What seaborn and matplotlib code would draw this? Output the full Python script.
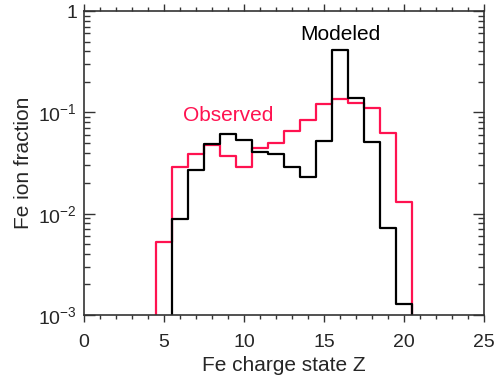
import numpy as np
import pandas as pd
import matplotlib
matplotlib.use("Agg")
import matplotlib.pyplot as plt
from matplotlib.ticker import MultipleLocator, FixedLocator, FixedFormatter, LogLocator, NullFormatter
import seaborn as sns

# Data (Fe charge states, ion fractions; zero outside observed/modeled range)
charge = [4, 5, 6, 7, 8, 9, 10, 11, 12, 13, 14, 15, 16, 17, 18, 19, 20, 21]
observed = [0, 0.0052, 0.029, 0.039, 0.0475, 0.037, 0.029, 0.0448, 0.0494,
            0.0654, 0.084, 0.120, 0.136, 0.123, 0.110, 0.063, 0.0131, 0]
modeled = [0, 0, 0.00885, 0.0269, 0.0486, 0.0606, 0.0533, 0.0408, 0.0388,
           0.0286, 0.0231, 0.0525, 0.412, 0.139, 0.0513, 0.00726, 0.00128, 0]

xticks = [0, 5, 10, 15, 20, 25]
yticks = [1e-3, 1e-2, 1e-1, 1]
yticklabels = [r'$\mathregular{10^{-3}}$', r'$\mathregular{10^{-2}}$',
               r'$\mathregular{10^{-1}}$', '1']

RED = '#ff1250'

sns.set_style("white")
plt.rcParams['font.family'] = ['Liberation Sans', 'DejaVu Sans']
plt.rcParams['mathtext.fontset'] = 'custom'
plt.rcParams['mathtext.rm'] = 'Liberation Sans'
plt.rcParams['mathtext.it'] = 'Liberation Sans:italic'
plt.rcParams['mathtext.bf'] = 'Liberation Sans:bold'

df = pd.DataFrame({'charge': charge, 'Observed': observed, 'Modeled': modeled})

fig = plt.figure(figsize=(5.01, 3.75), dpi=100)
ax = fig.add_axes([84/501, 1-315/375, 400/501, 304/375])

sns.lineplot(data=df, x='charge', y='Observed', ax=ax, color=RED,
             drawstyle='steps-mid', linewidth=1.6, estimator=None)
sns.lineplot(data=df, x='charge', y='Modeled', ax=ax, color='black',
             drawstyle='steps-mid', linewidth=1.6, estimator=None)

ax.set_yscale('log')
ax.set_xlim(0, 25)
ax.set_ylim(1e-3, 1)

ax.xaxis.set_major_locator(FixedLocator(xticks))
ax.xaxis.set_minor_locator(MultipleLocator(1))
ax.yaxis.set_major_locator(FixedLocator(yticks))
ax.yaxis.set_major_formatter(FixedFormatter(yticklabels))
ax.yaxis.set_minor_locator(LogLocator(base=10, subs=np.arange(2, 10)))
ax.yaxis.set_minor_formatter(NullFormatter())

ax.tick_params(axis='x', which='both', direction='out', top=True, bottom=True,
               labelsize=14, color='#333333', pad=9)
ax.tick_params(axis='x', which='major', length=5, width=1)
ax.tick_params(axis='x', which='minor', length=3, width=1)
ax.tick_params(axis='y', which='both', direction='in', left=True, right=True,
               labelsize=14, color='#333333', pad=5)
ax.tick_params(axis='y', which='major', length=8, width=1)
ax.tick_params(axis='y', which='minor', length=4, width=1)

for s in ax.spines.values():
    s.set_linewidth(1.2)
    s.set_color('#333333')

ax.set_xlabel('Fe charge state Z', fontsize=15, labelpad=3)
ax.set_ylabel('Fe ion fraction', fontsize=15, labelpad=4)

ax.text(16.0, 0.58, 'Modeled', color='black', fontsize=15, ha='center', va='center')
ax.text(9.0, 0.094, 'Observed', color=RED, fontsize=15, ha='center', va='center')

fig.savefig('out.png', dpi=100)
